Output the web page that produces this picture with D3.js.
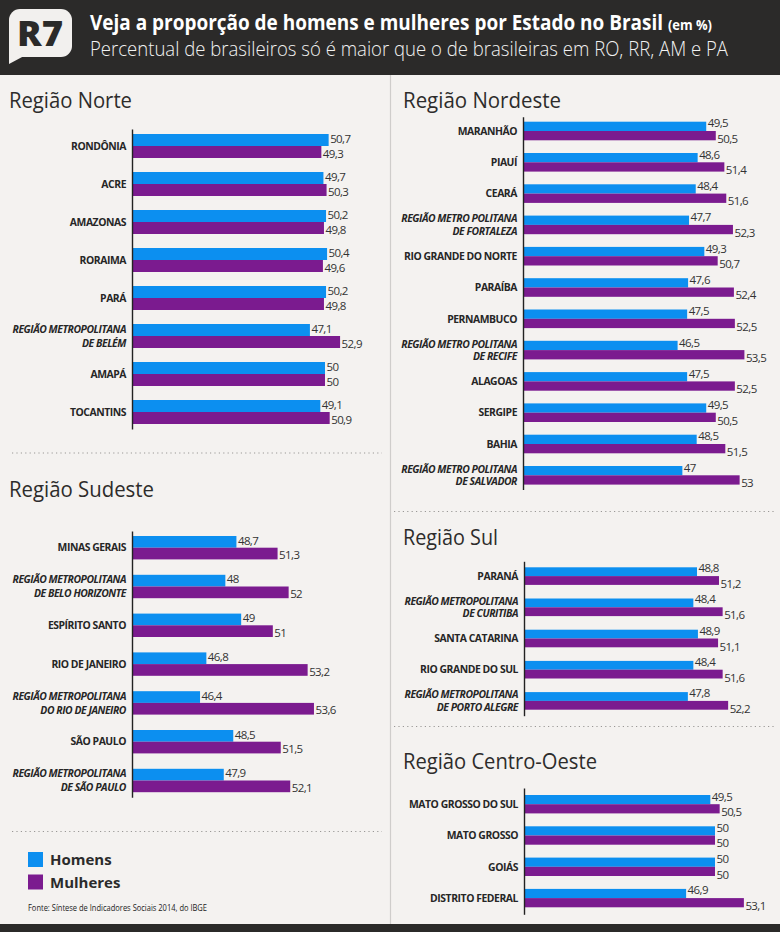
<!DOCTYPE html>
<html lang="pt-BR">
<head>
<meta charset="utf-8">
<title>Proporção de homens e mulheres por Estado</title>
<script src="https://cdn.jsdelivr.net/npm/d3@7"></script>
<style>
    body { margin: 0; background: #f4f2f0; }
    svg { display: block; font-family: "Open Sans", "DejaVu Sans", sans-serif; }
    .state { font-size: 10.4px; font-weight: 700; fill: #262626; letter-spacing: -0.45px; }
    .state.metro { font-style: italic; }
    .value { fill: #333; letter-spacing: -0.6px; }
    .axis path { stroke: #222; stroke-width: 1.4; }
    .dots { stroke: #9a9896; stroke-width: 1.1; stroke-dasharray: 1.2 3.2; }
</style>
</head>
<body>
<svg id="chart" width="780" height="932"></svg>
<script>
// séries (em %)
const series = ['Homens', 'Mulheres'];
const seriesColors = ['#0c8ff0', '#7b1b8f'];

const norteStates = ['RONDÔNIA', 'ACRE', 'AMAZONAS', 'RORAIMA', 'PARÁ', 'REGIÃO METROPOLITANA\nDE BELÉM', 'AMAPÁ', 'TOCANTINS'];
const norteHomens = [50.7, 49.7, 50.2, 50.4, 50.2, 47.1, 50, 49.1];
const norteMulheres = [49.3, 50.3, 49.8, 49.6, 49.8, 52.9, 50, 50.9];

const nordesteStates = ['MARANHÃO', 'PIAUÍ', 'CEARÁ', 'REGIÃO METRO POLITANA\nDE FORTALEZA', 'RIO GRANDE DO NORTE', 'PARAÍBA', 'PERNAMBUCO', 'REGIÃO METRO POLITANA\nDE RECIFE', 'ALAGOAS', 'SERGIPE', 'BAHIA', 'REGIÃO METRO POLITANA\nDE SALVADOR'];
const nordesteHomens = [49.5, 48.6, 48.4, 47.7, 49.3, 47.6, 47.5, 46.5, 47.5, 49.5, 48.5, 47];
const nordesteMulheres = [50.5, 51.4, 51.6, 52.3, 50.7, 52.4, 52.5, 53.5, 52.5, 50.5, 51.5, 53];

const sudesteStates = ['MINAS GERAIS', 'REGIÃO METROPOLITANA\nDE BELO HORIZONTE', 'ESPÍRITO SANTO', 'RIO DE JANEIRO', 'REGIÃO METROPOLITANA\nDO RIO DE JANEIRO', 'SÃO PAULO', 'REGIÃO METROPOLITANA\nDE SÃO PAULO'];
const sudesteHomens = [48.7, 48, 49, 46.8, 46.4, 48.5, 47.9];
const sudesteMulheres = [51.3, 52, 51, 53.2, 53.6, 51.5, 52.1];

const sulStates = ['PARANÁ', 'REGIÃO METROPOLITANA\nDE CURITIBA', 'SANTA CATARINA', 'RIO GRANDE DO SUL', 'REGIÃO METROPOLITANA\nDE PORTO ALEGRE'];
const sulHomens = [48.8, 48.4, 48.9, 48.4, 47.8];
const sulMulheres = [51.2, 51.6, 51.1, 51.6, 52.2];

const centroStates = ['MATO GROSSO DO SUL', 'MATO GROSSO', 'GOIÁS', 'DISTRITO FEDERAL'];
const centroHomens = [49.5, 50, 50, 46.9];
const centroMulheres = [50.5, 50, 50, 53.1];

// layout of each block (the bars in the original are not on one common scale)
const panels = [
    { title: 'Região Norte', titleX: 9, titleY: 107.5, titleW: 123, states: norteStates, values: [norteHomens, norteMulheres], axisX: 132, top: 134, step: 38, barH: 12, ext: 5, lo: 12.9, x50: 325 },
    { title: 'Região Sudeste', titleX: 9, titleY: 496.5, titleW: 145, states: sudesteStates, values: [sudesteHomens, sudesteMulheres], axisX: 132, top: 536, step: 38.8, barH: 11.7, ext: 5, lo: 42.1, x50: 257 },
    { title: 'Região Nordeste', titleX: 403, titleY: 107.5, titleW: 158, states: nordesteStates, values: [nordesteHomens, nordesteMulheres], axisX: 523, top: 121.7, step: 31.3, barH: 9.3, ext: 5, lo: 30.3, x50: 711 },
    { title: 'Região Sul', titleX: 403, titleY: 545, titleW: 95, states: sulStates, values: [sulHomens, sulMulheres], axisX: 524, top: 567.3, step: 31.2, barH: 8.8, ext: 6, lo: 29.9, x50: 708 },
    { title: 'Região Centro-Oeste', titleX: 403, titleY: 768.5, titleW: 194, states: centroStates, values: [centroHomens, centroMulheres], axisX: 524, top: 795, step: 31.3, barH: 9.2, ext: 7, lo: 29.5, x50: 715 }
];

const pt = d3.formatLocale({ decimal: ',', thousands: '.', grouping: [3], currency: ['R$', ''] });
const fmt = pt.format('.3~r');

const svg = d3.select('#chart');
svg.append('rect').attr('width', 780).attr('height', 932).attr('fill', '#f4f2f0');

// header
svg.append('rect').attr('width', 780).attr('height', 75).attr('fill', '#2b2a29');
svg.append('rect').attr('y', 924).attr('width', 780).attr('height', 8).attr('fill', '#2b2a29');
const logo = svg.append('g');
logo.append('rect').attr('x', 9).attr('y', 9).attr('width', 63).attr('height', 48).attr('rx', 11).attr('fill', '#f2f0ee');
logo.append('path').attr('d', 'M9,40 L9,64 L24,56 Z').attr('fill', '#f2f0ee');
logo.append('text').attr('x', 17).attr('y', 46).attr('textLength', 46).attr('lengthAdjust', 'spacingAndGlyphs')
    .attr('font-size', 36).attr('font-weight', 800).attr('fill', '#2b2a29').text('R7');

const title = svg.append('text').attr('x', 90).attr('y', 30).attr('font-size', 22).attr('font-weight', 700).attr('fill', '#fff')
    .attr('textLength', 622).attr('lengthAdjust', 'spacingAndGlyphs');
title.append('tspan').text('Veja a proporção de homens e mulheres por Estado no Brasil ');
title.append('tspan').attr('font-size', 15).text('(em %)');
svg.append('text').attr('x', 90).attr('y', 56).attr('font-size', 19.5).attr('font-weight', 300).attr('fill', '#f2f2f2')
    .attr('textLength', 638).attr('lengthAdjust', 'spacingAndGlyphs')
    .text('Percentual de brasileiros só é maior que o de brasileiras em RO, RR, AM e PA');

// divider and dotted separators
svg.append('line').attr('x1', 390.5).attr('x2', 390.5).attr('y1', 75).attr('y2', 924).attr('stroke', '#cfcdcb').attr('stroke-width', 1.2);
[[12, 382, 453], [12, 382, 831.5], [394, 776, 511.5], [394, 776, 726.5]].forEach(([x1, x2, y]) => {
    svg.append('line').attr('class', 'dots').attr('x1', x1).attr('x2', x2).attr('y1', y).attr('y2', y);
});

panels.forEach(p => {
    const n = p.states.length;
    const pi = 1 - (2 * p.barH) / p.step;
    const y = d3.scaleBand().domain(p.states)
        .range([p.top - p.ext, p.top + p.step * (n - pi) + p.ext])
        .paddingInner(pi).paddingOuter(p.ext / p.step);
    const ys = d3.scaleBand().domain(series).range([0, y.bandwidth()]);
    const x = d3.scaleLinear().domain([p.lo, 50]).range([p.axisX, p.x50]);
    // labels pushed apart a little so the pair doesn't collide on thin bars
    const spread = Math.max(1.5, 12.4 - p.barH);

    svg.append('text').attr('x', p.titleX).attr('y', p.titleY).attr('font-size', 22.5).attr('font-weight', 400).attr('fill', '#2d2c2b')
        .attr('textLength', p.titleW).attr('lengthAdjust', 'spacingAndGlyphs').text(p.title);

    const g = svg.append('g');
    const rows = g.selectAll('g.row').data(p.states).join('g').attr('class', 'row')
        .attr('transform', d => `translate(0,${y(d)})`);

    series.forEach((s, si) => {
        rows.append('rect')
            .attr('x', p.axisX)
            .attr('y', ys(s))
            .attr('width', (d, i) => x(p.values[si][i]) - p.axisX)
            .attr('height', ys.bandwidth())
            .attr('fill', seriesColors[si]);
        rows.append('text').attr('class', 'value')
            .attr('x', (d, i) => x(p.values[si][i]) + 1.5)
            .attr('y', ys(s) + ys.bandwidth() / 2 + (si === 0 ? -spread : spread))
            .attr('dy', '0.36em')
            .attr('font-size', 11.5)
            .text((d, i) => fmt(p.values[si][i]));
    });

    rows.each(function (d) {
        const lines = d.split('\n');
        const t = d3.select(this).append('text').attr('class', 'state' + (d.startsWith('REGIÃO') ? ' metro' : ''))
            .attr('text-anchor', 'end');
        if (lines.length === 1) {
            t.append('tspan').attr('x', p.axisX - 6).attr('y', y.bandwidth() / 2).attr('dy', '0.36em').text(lines[0]);
        } else {
            const sp = p.barH < 10 ? spread / 2 : 1.2;
            lines.forEach((line, li) => {
                t.append('tspan').attr('x', p.axisX - 6).attr('y', ys(series[li]) + ys.bandwidth() / 2 + (li === 0 ? -sp : sp)).attr('dy', '0.36em').text(line);
            });
        }
    });

    g.append('g').attr('class', 'axis').attr('transform', `translate(${p.axisX},0)`)
        .call(d3.axisLeft(y).tickValues([]).tickSizeOuter(0));
});

// legend
const legend = svg.append('g').attr('transform', 'translate(28,852)');
series.forEach((s, i) => {
    legend.append('rect').attr('y', i * 22.5).attr('width', 15).attr('height', 15).attr('fill', seriesColors[i]);
    legend.append('text').attr('x', 22).attr('y', i * 22.5 + 13).attr('font-size', 15).attr('font-weight', 700).attr('fill', '#2b2b2b').text(s);
});
svg.append('text').attr('x', 28).attr('y', 911).attr('font-size', 9).attr('fill', '#222')
    .attr('textLength', 179).attr('lengthAdjust', 'spacingAndGlyphs')
    .text('Fonte: Síntese de Indicadores Sociais 2014, do IBGE');
</script>
</body>
</html>
